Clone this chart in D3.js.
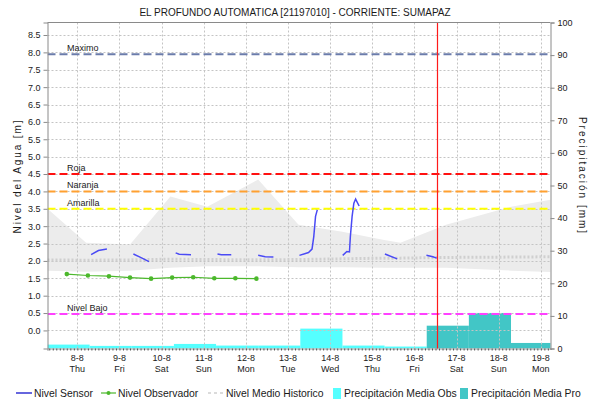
<!DOCTYPE html>
<html>
<head>
<meta charset="utf-8">
<script src="https://cdn.jsdelivr.net/npm/d3@7/dist/d3.min.js"></script>
<style>
  html, body { margin: 0; padding: 0; background: #ffffff; }
  svg { display: block; font-family: "Liberation Sans", Arial, sans-serif; }
</style>
</head>
<body>
<svg id="chart" width="590" height="411"></svg>
<script>
// ---- Data -------------------------------------------------------------
const titleText = "EL PROFUNDO AUTOMATICA [21197010] - CORRIENTE: SUMAPAZ";
const leftAxisTitle = "Nivel del Agua [m]";
const rightAxisTitle = "Precipitación [mm]";

const timeStart = "2024-08-07T07:00";
const timeEnd = "2024-08-19T05:30";
const nowTime = "2024-08-16T12:50";

const dayTicks = ["2024-08-08", "2024-08-09", "2024-08-10", "2024-08-11", "2024-08-12", "2024-08-13",
                  "2024-08-14", "2024-08-15", "2024-08-16", "2024-08-17", "2024-08-18", "2024-08-19"];
const levelTicks = [0, 0.5, 1, 1.5, 2, 2.5, 3, 3.5, 4, 4.5, 5, 5.5, 6, 6.5, 7, 7.5, 8, 8.5];
const precipTicks = [0, 10, 20, 30, 40, 50, 60, 70, 80, 90, 100];

// threshold levels [m]
const thresholdNames = ["Maximo", "Roja", "Naranja", "Amarilla", "Nivel Bajo"];
const thresholdValues = [7.95, 4.5, 4.0, 3.5, 0.47];
const thresholdColors = ["#6b7cab", "#ff1010", "#ffa030", "#ffff00", "#ff40ff"];

// historical band (min / max) and historical mean level [m]
const bandTimes = ["2024-08-07T07:00", "2024-08-08T05:00", "2024-08-09T06:00", "2024-08-10T05:00",
                   "2024-08-11T02:00", "2024-08-12T07:00", "2024-08-13T06:00", "2024-08-14T07:00",
                   "2024-08-15T06:00", "2024-08-15T16:00", "2024-08-16T18:00", "2024-08-18T07:00",
                   "2024-08-19T05:30"];
const bandMax = [3.5, 2.52, 2.47, 3.85, 3.56, 4.34, 3.04, 2.84, 2.61, 2.52, 3.04, 3.56, 3.76];
const bandMin = [1.72, 1.69, 1.72, 1.8, 1.85, 1.85, 1.82, 1.82, 1.8, 1.8, 1.8, 1.72, 1.68];
const meanLevel = [2.03, 2.02, 2.03, 2.05, 2.04, 2.03, 2.04, 2.06, 2.08, 2.08, 2.1, 2.11, 2.12];

// sensor level segments [m] (gaps between segments)
const sensorSegments = [
  { t: ["2024-08-08T07:50", "2024-08-08T12:00", "2024-08-08T16:50"], v: [2.18, 2.3, 2.34] },
  { t: ["2024-08-09T07:55", "2024-08-09T12:00", "2024-08-09T16:50"], v: [2.2, 2.1, 1.98] },
  { t: ["2024-08-10T08:00", "2024-08-10T10:00", "2024-08-10T16:45"], v: [2.23, 2.19, 2.18] },
  { t: ["2024-08-11T07:50", "2024-08-11T10:00", "2024-08-11T15:40"], v: [2.2, 2.18, 2.18] },
  { t: ["2024-08-12T07:00", "2024-08-12T11:00", "2024-08-12T15:40"], v: [2.16, 2.12, 2.11] },
  { t: ["2024-08-13T06:30", "2024-08-13T11:40", "2024-08-13T13:40", "2024-08-13T14:40",
        "2024-08-13T15:40", "2024-08-13T16:40"], v: [2.16, 2.24, 2.34, 2.7, 3.28, 3.47] },
  { t: ["2024-08-14T07:10", "2024-08-14T09:30", "2024-08-14T11:00", "2024-08-14T11:30",
        "2024-08-14T12:30", "2024-08-14T13:30", "2024-08-14T14:30", "2024-08-14T16:30"],
    v: [2.16, 2.27, 2.26, 2.7, 3.28, 3.66, 3.78, 3.58] },
  { t: ["2024-08-15T07:10", "2024-08-15T14:10"], v: [2.2, 2.06] },
  { t: ["2024-08-16T06:50", "2024-08-16T10:30", "2024-08-16T12:40"], v: [2.16, 2.12, 2.08] }
];

// observer readings [m]
const observerTimes = ["2024-08-07T18:00", "2024-08-08T06:00", "2024-08-08T18:00", "2024-08-09T06:00",
                       "2024-08-09T18:00", "2024-08-10T06:00", "2024-08-10T18:00", "2024-08-11T06:00",
                       "2024-08-11T18:00", "2024-08-12T06:00"];
const observerLevel = [1.62, 1.58, 1.56, 1.52, 1.49, 1.52, 1.53, 1.5, 1.5, 1.49];

// daily precipitation [mm], each bin runs 07:00 to 07:00
const precipObsStart = ["2024-08-07T07:00", "2024-08-08T07:00", "2024-08-09T07:00", "2024-08-10T07:00",
                        "2024-08-11T07:00", "2024-08-12T07:00", "2024-08-13T07:00", "2024-08-14T07:00",
                        "2024-08-15T07:00"];
const precipObs = [1.2, 0.8, 0.8, 1.4, 0.9, 0.9, 6.1, 0.9, 0.6];
const precipProStart = ["2024-08-16T07:00", "2024-08-17T07:00", "2024-08-18T07:00"];
const precipPro = [7.0, 10.9, 1.7];

const legendNames = ["Nivel Sensor", "Nivel Observador", "Nivel Medio Historico",
                     "Precipitación Media Obs", "Precipitación Media Pro"];

// ---- Layout -----------------------------------------------------------
const plot = { left: 47.5, right: 550.5, top: 22.5, bottom: 348.5 };
const parse = s => new Date(s);
const dayMs = 86400000;

const svg = d3.select("#chart");

const x = d3.scaleTime()
  .domain([parse(timeStart), parse(timeEnd)])
  .range([plot.left, plot.right]);
const yL = d3.scaleLinear().domain([-0.52, 8.86]).range([plot.bottom, plot.top]);
const yR = d3.scaleLinear().domain([0, 100]).range([plot.bottom, plot.top]);

const colors = {
  sensor: "#4a4af5", sensorLegend: "#0000c8", observer: "#4cb82c",
  mean: "#cfcfcf", band: "#ececec", obs: "#55ffff", pro: "#42c6c6",
  grid: "#c4c4c4", axis: "#8a8a8a", now: "#ff1a1a", text: "#1a1a1a"
};

svg.append("rect").attr("width", 590).attr("height", 411).attr("fill", "#ffffff");

const g = svg.append("g");
g.append("clipPath").attr("id", "plotclip").append("rect")
  .attr("x", plot.left).attr("y", plot.top)
  .attr("width", plot.right - plot.left).attr("height", plot.bottom - plot.top);
const pg = g.append("g").attr("clip-path", "url(#plotclip)");

// historical band
const bandData = bandTimes.map((t, i) => ({ t: parse(t), lo: bandMin[i], hi: bandMax[i], m: meanLevel[i] }));
pg.append("path")
  .datum(bandData)
  .attr("fill", colors.band)
  .attr("d", d3.area().x(d => x(d.t)).y0(d => yL(d.lo)).y1(d => yL(d.hi)));

// precipitation bars
const obsBars = precipObsStart.map((s, i) => ({ s: parse(s), v: precipObs[i] }));
const proBars = precipProStart.map((s, i) => ({ s: parse(s), v: precipPro[i] }));
const drawBars = (data, fill) => pg.append("g").selectAll("rect").data(data).join("rect")
  .attr("x", d => x(d.s))
  .attr("width", d => x(new Date(+d.s + dayMs)) - x(d.s))
  .attr("y", d => yR(d.v))
  .attr("height", d => yR(0) - yR(d.v))
  .attr("fill", fill);
drawBars(obsBars, colors.obs);
drawBars(proBars, colors.pro);

// grid
const tickDates = dayTicks.map(s => new Date(s + "T00:00"));
pg.append("g").selectAll("line").data(tickDates).join("line")
  .attr("x1", d => Math.round(x(d)) + 0.5).attr("x2", d => Math.round(x(d)) + 0.5)
  .attr("y1", plot.top).attr("y2", plot.bottom)
  .attr("stroke", colors.grid).attr("stroke-width", 1).attr("stroke-dasharray", "2,2");
pg.append("g").selectAll("line").data(levelTicks).join("line")
  .attr("x1", plot.left).attr("x2", plot.right)
  .attr("y1", d => Math.round(yL(d)) + 0.5).attr("y2", d => Math.round(yL(d)) + 0.5)
  .attr("stroke", colors.grid).attr("stroke-width", 1).attr("stroke-dasharray", "2,2");

// historical mean
pg.append("path")
  .datum(bandData)
  .attr("fill", "none").attr("stroke", colors.mean).attr("stroke-width", 3)
  .attr("stroke-dasharray", "2,2")
  .attr("d", d3.line().x(d => x(d.t)).y(d => yL(d.m)));

// thresholds
const thr = thresholdNames.map((n, i) => ({ n, v: thresholdValues[i], c: thresholdColors[i] }));
pg.append("g").selectAll("line").data(thr).join("line")
  .attr("x1", plot.left).attr("x2", plot.right)
  .attr("y1", d => yL(d.v)).attr("y2", d => yL(d.v))
  .attr("stroke", d => d.c).attr("stroke-width", 2)
  .attr("stroke-dasharray", "8,4");
g.append("g").selectAll("text").data(thr).join("text")
  .attr("x", 67).attr("y", d => yL(d.v) - 3)
  .attr("font-size", 9).attr("fill", colors.text)
  .text(d => d.n);

// sensor level
const sensorLine = d3.line().x(d => x(d.t)).y(d => yL(d.v));
sensorSegments.forEach(seg => {
  const pts = seg.t.map((t, i) => ({ t: parse(t), v: seg.v[i] }));
  pg.append("path").datum(pts)
    .attr("fill", "none").attr("stroke", colors.sensor).attr("stroke-width", 1.5)
    .attr("d", sensorLine);
});

// observer level
const obsPts = observerTimes.map((t, i) => ({ t: parse(t), v: observerLevel[i] }));
pg.append("path").datum(obsPts)
  .attr("fill", "none").attr("stroke", colors.observer).attr("stroke-width", 1.2)
  .attr("d", d3.line().x(d => x(d.t)).y(d => yL(d.v)));
pg.append("g").selectAll("circle").data(obsPts).join("circle")
  .attr("cx", d => x(d.t)).attr("cy", d => yL(d.v)).attr("r", 2.3)
  .attr("fill", colors.observer);

// current time marker
const nowX = Math.round(x(parse(nowTime))) + 0.5;
g.append("line")
  .attr("x1", nowX).attr("x2", nowX)
  .attr("y1", plot.top).attr("y2", plot.bottom)
  .attr("stroke", colors.now).attr("stroke-width", 1.2);

// ---- Axes -------------------------------------------------------------
const axL = d3.axisLeft(yL).tickValues(levelTicks).tickSize(4).tickFormat(d3.format(".1f"));
const axR = d3.axisRight(yR).tickValues(precipTicks).tickSize(4);
const gL = g.append("g").attr("transform", `translate(${plot.left},0)`).call(axL);
const gR = g.append("g").attr("transform", `translate(${plot.right},0)`).call(axR);
[gL, gR].forEach(a => {
  a.select(".domain").attr("stroke", colors.axis);
  a.selectAll(".tick line").attr("stroke", colors.axis);
  a.selectAll("text").attr("font-size", 9).attr("fill", colors.text)
    .attr("font-family", "Liberation Sans, Arial, sans-serif");
});

// top border
g.append("line").attr("x1", plot.left).attr("x2", plot.right)
  .attr("y1", plot.top).attr("y2", plot.top).attr("stroke", colors.axis);

// bottom axis with minor ticks
const axB = d3.axisBottom(x).ticks(d3.timeHour.every(2)).tickSize(2).tickFormat("");
const gB = g.append("g").attr("transform", `translate(0,${plot.bottom})`).call(axB);
gB.select(".domain").attr("stroke", "#444").attr("stroke-dasharray", "1,1");
gB.selectAll(".tick line").attr("stroke", "#555");

const fmtDay = d3.timeFormat("%-d-%-m");
const fmtWd = d3.timeFormat("%a");
const xl = g.append("g").selectAll("g").data(tickDates).join("g")
  .attr("transform", d => `translate(${x(d)},0)`);
xl.append("text").attr("y", 361).attr("text-anchor", "middle")
  .attr("font-size", 9).attr("fill", colors.text).text(d => fmtDay(d));
xl.append("text").attr("y", 372).attr("text-anchor", "middle")
  .attr("font-size", 9).attr("fill", colors.text).text(d => fmtWd(d));

// titles
svg.append("text").attr("x", 295).attr("y", 16).attr("text-anchor", "middle")
  .attr("font-size", 10).attr("fill", colors.text).text(titleText);
svg.append("text").attr("transform", "translate(21,176) rotate(-90)")
  .attr("text-anchor", "middle").attr("font-size", 10).attr("letter-spacing", 1.9)
  .attr("fill", colors.text).text(leftAxisTitle);
svg.append("text").attr("transform", "translate(579,176) rotate(90)")
  .attr("text-anchor", "middle").attr("font-size", 10).attr("letter-spacing", 2)
  .attr("fill", colors.text).text(rightAxisTitle);

// ---- Legend -----------------------------------------------------------
const lg = svg.append("g").attr("font-size", 10.4).attr("fill", colors.text);
const ly = 393;
// Nivel Sensor
lg.append("line").attr("x1", 16).attr("x2", 32).attr("y1", ly).attr("y2", ly)
  .attr("stroke", colors.sensorLegend).attr("stroke-width", 1.2);
lg.append("text").attr("x", 34).attr("y", ly + 4).text(legendNames[0]);
// Nivel Observador
lg.append("line").attr("x1", 101).attr("x2", 116).attr("y1", ly).attr("y2", ly)
  .attr("stroke", colors.observer).attr("stroke-width", 1.2);
lg.append("circle").attr("cx", 108.5).attr("cy", ly).attr("r", 2).attr("fill", colors.observer);
lg.append("text").attr("x", 118).attr("y", ly + 4).text(legendNames[1]);
// Nivel Medio Historico
lg.append("line").attr("x1", 208).attr("x2", 224).attr("y1", ly).attr("y2", ly)
  .attr("stroke", colors.mean).attr("stroke-width", 1.5).attr("stroke-dasharray", "3,3");
lg.append("text").attr("x", 226).attr("y", ly + 4).text(legendNames[2]);
// Precipitación Media Obs
lg.append("rect").attr("x", 333).attr("y", ly - 5).attr("width", 8).attr("height", 11).attr("fill", colors.obs);
lg.append("text").attr("x", 344).attr("y", ly + 4).text(legendNames[3]);
// Precipitación Media Pro
lg.append("rect").attr("x", 460).attr("y", ly - 5).attr("width", 8).attr("height", 11).attr("fill", colors.pro);
lg.append("text").attr("x", 471).attr("y", ly + 4).text(legendNames[4]);
</script>
</body>
</html>
